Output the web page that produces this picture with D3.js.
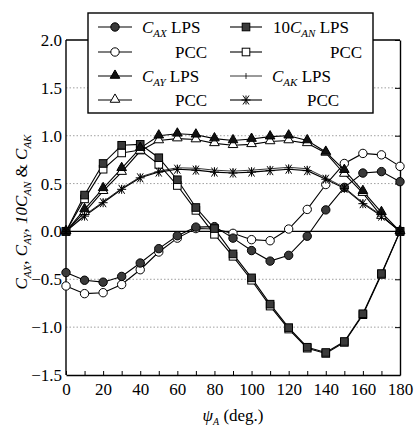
<!DOCTYPE html>
<html>
<head>
<meta charset="utf-8">
<script src="https://cdn.jsdelivr.net/npm/d3@7"></script>
<style>
  body { margin: 0; background: #fff; }
  svg { display: block; font-family: "Liberation Serif", "DejaVu Serif", serif; }
</style>
</head>
<body>
<svg id="chart" width="415" height="428"></svg>
<script>
// angles (deg.)
var phi = [0, 10, 20, 30, 40, 50, 60, 70, 80, 90, 100, 110, 120, 130, 140, 150, 160, 170, 180];

// C_AX
var caxLps = [-0.43, -0.51, -0.53, -0.47, -0.33, -0.18, -0.045, 0.045, 0.05, -0.07, -0.20, -0.31, -0.25, -0.05, 0.225, 0.46, 0.61, 0.625, 0.52];
var caxPcc = [-0.57, -0.65, -0.64, -0.555, -0.40, -0.215, -0.07, 0.03, 0.025, -0.02, -0.086, -0.097, 0.025, 0.23, 0.49, 0.71, 0.815, 0.80, 0.68];
// 10 C_AN
var canLps = [0, 0.38, 0.71, 0.90, 0.91, 0.77, 0.54, 0.25, 0.03, -0.235, -0.485, -0.76, -1.005, -1.21, -1.265, -1.15, -0.86, -0.44, 0];
var canPcc = [0, 0.34, 0.65, 0.82, 0.85, 0.70, 0.48, 0.22, -0.03, -0.26, -0.51, -0.78, -1.02, -1.22, -1.275, -1.16, -0.87, -0.45, 0];
// C_AY
var cayLps = [0, 0.23, 0.45, 0.66, 0.87, 1.00, 1.02, 1.01, 0.97, 0.95, 0.965, 0.99, 1.0, 0.95, 0.83, 0.64, 0.42, 0.20, 0];
var cayPcc = [0, 0.20, 0.42, 0.62, 0.84, 0.95, 0.97, 0.96, 0.92, 0.90, 0.91, 0.94, 0.95, 0.92, 0.82, 0.60, 0.40, 0.16, 0];
// C_AK
var cakLps = [0, 0.17, 0.31, 0.45, 0.57, 0.63, 0.665, 0.66, 0.64, 0.63, 0.64, 0.655, 0.67, 0.655, 0.56, 0.46, 0.30, 0.17, 0];
var cakPcc = [0, 0.16, 0.30, 0.44, 0.56, 0.62, 0.65, 0.64, 0.62, 0.61, 0.62, 0.635, 0.65, 0.635, 0.545, 0.45, 0.29, 0.16, 0];

var xTicks = [0, 20, 40, 60, 80, 100, 120, 140, 160, 180];
var yTicks = [2.0, 1.5, 1.0, 0.5, 0.0, -0.5, -1.0, -1.5];

var series = [
  { name: 'caxLps', values: caxLps, sym: 'circle', fill: '#3a3a3a' },
  { name: 'caxPcc', values: caxPcc, sym: 'circle', fill: '#fff' },
  { name: 'canLps', values: canLps, sym: 'square', fill: '#3a3a3a' },
  { name: 'canPcc', values: canPcc, sym: 'square', fill: '#fff' },
  { name: 'cayLps', values: cayLps, sym: 'triangle', fill: '#111' },
  { name: 'cayPcc', values: cayPcc, sym: 'triangle', fill: '#fff' },
  { name: 'cakLps', values: cakLps, sym: 'plus', fill: 'none' },
  { name: 'cakPcc', values: cakPcc, sym: 'star', fill: 'none' }
];

var svg = d3.select('#chart');
var pLeft = 66, pRight = 400, pTop = 40, pBottom = 375;

var x = d3.scaleLinear().domain([0, 180]).range([pLeft, pRight]);
var y = d3.scaleLinear().domain([-1.5, 2.0]).range([pBottom, pTop]);

// dotted grid
svg.append('g')
  .selectAll('line')
  .data(yTicks.filter(d => d != 0 && d != 2.0 && d != -1.5))
  .enter()
  .append('line')
  .attr('x1', pLeft).attr('x2', pRight)
  .attr('y1', d => y(d)).attr('y2', d => y(d))
  .attr('stroke', '#888')
  .attr('stroke-width', 0.8)
  .attr('stroke-dasharray', '1.5,2');

// zero line
svg.append('line')
  .attr('x1', pLeft).attr('x2', pRight)
  .attr('y1', y(0)).attr('y2', y(0))
  .attr('stroke', '#000').attr('stroke-width', 1.2);

// axes
var xAxis = d3.axisBottom(x).tickValues(d3.range(0, 181, 10)).tickSizeInner(-4).tickSizeOuter(0).tickFormat('');
svg.append('g').attr('transform', 'translate(0,' + pBottom + ')').call(xAxis);
var xLab = d3.axisBottom(x).tickValues(xTicks).tickSize(0).tickPadding(8).tickFormat(d3.format('d'));
svg.append('g').attr('class', 'xlab').attr('transform', 'translate(0,' + pBottom + ')').call(xLab);

var yAxis = d3.axisLeft(y).tickValues(yTicks).tickSize(0).tickPadding(4).tickFormat(d3.format('.1f'));
svg.append('g').attr('class', 'ylab').attr('transform', 'translate(' + pLeft + ',0)').call(yAxis);
var yRight = d3.axisRight(y).tickValues(yTicks).tickSizeInner(-5).tickSizeOuter(0).tickFormat('');
svg.append('g').attr('transform', 'translate(' + pRight + ',0)').call(yRight);

svg.selectAll('.domain').attr('stroke', '#000').attr('stroke-width', 1.4);
svg.selectAll('.tick line').attr('stroke', '#000');
svg.selectAll('.xlab .domain, .ylab .domain').remove();
svg.selectAll('.xlab text, .ylab text')
  .attr('font-family', '"Liberation Serif", serif')
  .attr('font-size', 17)
  .attr('fill', '#000');

// top and left frame
svg.append('line').attr('x1', pLeft).attr('x2', pRight).attr('y1', pTop).attr('y2', pTop)
  .attr('stroke', '#000').attr('stroke-width', 1.4);
svg.append('line').attr('x1', pLeft).attr('x2', pLeft).attr('y1', pTop).attr('y2', pBottom)
  .attr('stroke', '#000').attr('stroke-width', 1.4);

function drawSymbol(g, sym, fill, cx, cy) {
  if (sym == 'circle') {
    g.append('circle').attr('cx', cx).attr('cy', cy).attr('r', 4.2)
      .attr('fill', fill).attr('stroke', '#000').attr('stroke-width', 1);
  } else if (sym == 'square') {
    g.append('rect').attr('x', cx - 3.8).attr('y', cy - 3.8).attr('width', 7.6).attr('height', 7.6)
      .attr('fill', fill).attr('stroke', '#000').attr('stroke-width', 1);
  } else if (sym == 'triangle') {
    g.append('path').attr('d', d3.symbol().type(d3.symbolTriangle).size(40)())
      .attr('transform', 'translate(' + cx + ',' + (cy - 0.5) + ')')
      .attr('fill', fill).attr('stroke', '#000').attr('stroke-width', 1);
  } else if (sym == 'plus') {
    g.append('path').attr('d', 'M' + cx + ',' + (cy - 3) + 'V' + (cy + 3))
      .attr('stroke', '#000').attr('stroke-width', 0.8);
  } else if (sym == 'star') {
    g.append('path')
      .attr('d', 'M' + (cx - 4.5) + ',' + cy + 'H' + (cx + 4.5) +
        'M' + (cx - 3) + ',' + (cy - 4.5) + 'L' + (cx + 3) + ',' + (cy + 4.5) +
        'M' + (cx + 3) + ',' + (cy - 4.5) + 'L' + (cx - 3) + ',' + (cy + 4.5) +
        'M' + cx + ',' + (cy - 4.5) + 'V' + (cy + 4.5))
      .attr('stroke', '#000').attr('stroke-width', 1);
  }
}

var line = d3.line().x((d, i) => x(phi[i])).y(d => y(d));

// lines then markers (PCC markers under LPS markers)
series.forEach(function(s) {
  svg.append('path')
    .datum(s.values)
    .attr('d', line)
    .attr('fill', 'none')
    .attr('stroke', '#000')
    .attr('stroke-width', s.sym == 'plus' ? 0.8 : 1.1);
});
[1, 0, 3, 2, 5, 4, 7, 6].forEach(function(k) {
  var s = series[k];
  var g = svg.append('g');
  s.values.forEach(function(v, i) {
    drawSymbol(g, s.sym, s.fill, x(phi[i]), y(v));
  });
});

// legend
var leg = svg.append('g');
leg.append('rect').attr('x', 88).attr('y', 13).attr('width', 285).attr('height', 100)
  .attr('fill', '#fff').attr('stroke', '#000').attr('stroke-width', 1.4);

var rows = [27, 52, 76, 100];
var legItems = [
  { s: series[0], col: 0, row: 0, sub: 'AX', pre: '', tx: 142 },
  { s: series[1], col: 0, row: 1, tx: 175 },
  { s: series[4], col: 0, row: 2, sub: 'AY', pre: '', tx: 142 },
  { s: series[5], col: 0, row: 3, tx: 175 },
  { s: series[2], col: 1, row: 0, sub: 'AN', pre: '10', tx: 273 },
  { s: series[3], col: 1, row: 1, tx: 330 },
  { s: series[6], col: 1, row: 2, sub: 'AK', pre: '', tx: 272 },
  { s: series[7], col: 1, row: 3, tx: 307 }
];
legItems.forEach(function(it) {
  var cy = rows[it.row];
  var x0 = it.col == 0 ? 98 : 230, x1 = it.col == 0 ? 132 : 262;
  leg.append('line').attr('x1', x0).attr('x2', x1).attr('y1', cy).attr('y2', cy)
    .attr('stroke', '#000').attr('stroke-width', it.s.sym == 'plus' ? 0.8 : 1.1);
  drawSymbol(leg, it.s.sym, it.s.fill, (x0 + x1) / 2, cy);
  var t = leg.append('text').attr('x', it.tx).attr('y', cy + 6)
    .attr('font-size', 17).attr('fill', '#000');
  if (it.sub) {
    if (it.pre) t.append('tspan').text(it.pre);
    t.append('tspan').attr('font-style', 'italic').text('C');
    t.append('tspan').attr('font-style', 'italic').attr('font-size', 11).attr('dy', 4).text(it.sub);
    t.append('tspan').attr('dy', -4).text(' LPS');
  } else {
    t.text('PCC');
  }
});

// axis titles
var yt = svg.append('text')
  .attr('transform', 'translate(27,212) rotate(-90)')
  .attr('text-anchor', 'middle')
  .attr('font-size', 17).attr('fill', '#000');
[['', 'AX', ', '], ['', 'AY', ', '], ['10', 'AN', ' & '], ['', 'AK', '']].forEach(function(p) {
  if (p[0]) yt.append('tspan').attr('font-style', 'italic').text(p[0]);
  yt.append('tspan').attr('font-style', 'italic').text('C');
  yt.append('tspan').attr('font-style', 'italic').attr('font-size', 11).attr('dy', 4).text(p[1]);
  if (p[2]) yt.append('tspan').attr('dy', -4).text(p[2]);
});

var xt = svg.append('text')
  .attr('x', 233).attr('y', 421)
  .attr('text-anchor', 'middle')
  .attr('font-size', 17).attr('fill', '#000');
xt.append('tspan').attr('font-style', 'italic').text('\u03c8');
xt.append('tspan').attr('font-style', 'italic').attr('font-size', 10).attr('dy', 4).text('A');
xt.append('tspan').attr('dy', -4).text(' (deg.)');
</script>
</body>
</html>
